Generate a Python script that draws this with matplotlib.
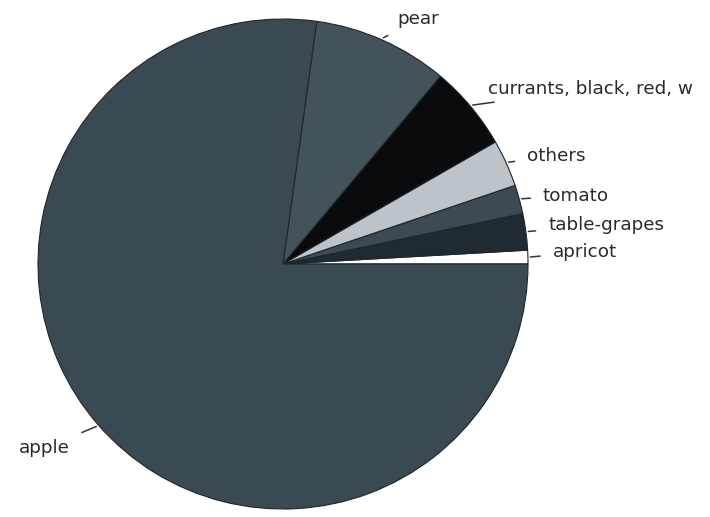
import matplotlib
matplotlib.use("Agg")
import matplotlib.pyplot as plt
import numpy as np

# Data (shares in percent), counter-clockwise from 3 o'clock
categories = ["apricot", "table-grapes", "tomato", "others",
              "currants, black, red, w", "pear", "apple"]
values = [0.9, 2.4, 1.9, 3.1, 5.6, 8.9, 77.2]
colors = ["#ffffff", "#1f2a31", "#3d4a53", "#bcc3c9", "#0a0b0c", "#44525a", "#3b4a52"]

# label text positions (axes data units, pie radius = 1)
label_pos = [(1.10, 0.049), (1.082, 0.159), (1.061, 0.278), (0.996, 0.441),
             (0.837, 0.714), (0.465, 1.0), (-0.869, -0.751)]
label_ha = ["left", "left", "left", "left", "left", "left", "right"]

W, H = 710, 517
fig = plt.figure(figsize=(W / 100, H / 100), dpi=100)
cx, cy, R = 283, 264, 245
ax = fig.add_axes([(cx - R) / W, (H - cy - R) / H, 2 * R / W, 2 * R / H])

wedges, _ = ax.pie(values, colors=colors, startangle=0, counterclock=True,
                   radius=1.0, wedgeprops=dict(linewidth=0.8, edgecolor="#1e262b"))
ax.set_xlim(-1, 1)
ax.set_ylim(-1, 1)
ax.set_aspect("equal")
ax.axis("off")

for w, name, (tx, ty), ha in zip(wedges, categories, label_pos, label_ha):
    mid = np.deg2rad((w.theta1 + w.theta2) / 2)
    px, py = 1.01 * np.cos(mid), 1.01 * np.sin(mid)
    ax.annotate(name, xy=(px, py), xytext=(tx, ty), ha=ha, va="center",
                fontsize=13.2, color="#2a2a2a", family="DejaVu Sans",
                annotation_clip=False,
                arrowprops=dict(arrowstyle="-", color="#333333", lw=1.1,
                                shrinkA=7, shrinkB=0))

fig.savefig("out.png", dpi=100)
